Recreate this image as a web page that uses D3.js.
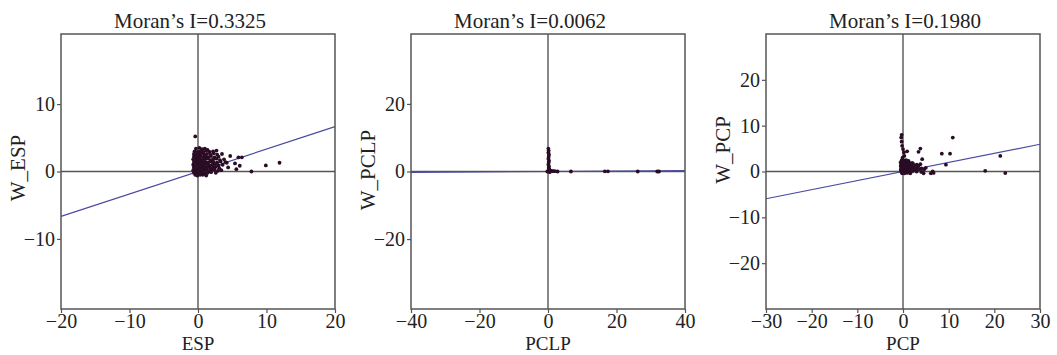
<!DOCTYPE html>
<html lang="en">
<head>
<meta charset="UTF-8">
<title>Moran scatter plots</title>
<script src="https://d3js.org/d3.v7.min.js"></script>
<style>
  body { margin: 0; background: #fff; }
  text { font-family: "Liberation Serif", "Times New Roman", serif; fill: #222; }
</style>
</head>
<body>
<div id="chartID"></div>
<script>
// titles, labels, ticks
var titles = ["Moran\u2019s I=0.3325", "Moran\u2019s I=0.0062", "Moran\u2019s I=0.1980"];
var moranI = [0.3325, 0.0062, 0.1980];
var xLabels = ["ESP", "PCLP", "PCP"];
var yLabels = ["W_ESP", "W_PCLP", "W_PCP"];
var xLimits = [[-20, 20], [-40, 40], [-30, 30]];
var yLimits = [[-20.4, 20.4], [-40.7, 40.7], [-30, 30]];
var xTicks = [[-20, -10, 0, 10, 20], [-40, -20, 0, 20, 40], [-30, -20, -10, 0, 10, 20, 30]];
var yTicks = [[-10, 0, 10], [-20, 0, 20], [-20, -10, 0, 10, 20]];

// [value, spatial lag] pairs
var espPoints = [
  [-0.4, 5.2],
  [-0.3, 3.4], [0.2, 3.5], [0.6, 3.3], [1.0, 3.4], [1.4, 3.2],
  [-0.5, 3.0], [-0.1, 2.9], [0.3, 3.0], [0.8, 2.9], [1.2, 3.1], [1.7, 2.9], [2.2, 3.0],
  [-0.6, 2.6], [-0.2, 2.5], [0.2, 2.6], [0.5, 2.7], [0.9, 2.5], [1.3, 2.6], [1.8, 2.5], [2.3, 2.7], [2.8, 2.5],
  [-0.6, 2.2], [-0.3, 2.1], [0.1, 2.2], [0.4, 2.3], [0.8, 2.1], [1.1, 2.2], [1.5, 2.1], [1.9, 2.3], [2.4, 2.1], [3.0, 2.2],
  [-0.7, 1.8], [-0.3, 1.7], [0.0, 1.8], [0.3, 1.9], [0.6, 1.7], [1.0, 1.8], [1.4, 1.9], [1.8, 1.7], [2.2, 1.8], [2.7, 1.9], [3.2, 1.7], [3.8, 1.8],
  [-0.6, 1.4], [-0.2, 1.3], [0.1, 1.4], [0.4, 1.5], [0.7, 1.3], [1.1, 1.4], [1.5, 1.3], [1.9, 1.5], [2.3, 1.4], [2.8, 1.3], [3.3, 1.5], [4.0, 1.4],
  [-0.7, 1.0], [-0.4, 0.9], [0.0, 1.0], [0.3, 1.1], [0.6, 0.9], [0.9, 1.0], [1.3, 1.1], [1.7, 0.9], [2.1, 1.0], [2.5, 1.1], [3.0, 0.9], [3.6, 1.0],
  [-0.6, 0.6], [-0.3, 0.5], [0.1, 0.6], [0.4, 0.7], [0.7, 0.5], [1.0, 0.6], [1.4, 0.7], [1.8, 0.5], [2.2, 0.6], [2.6, 0.7], [3.1, 0.5], [4.4, 0.6],
  [-0.7, 0.2], [-0.4, 0.1], [-0.1, 0.2], [0.2, 0.3], [0.5, 0.1], [0.9, 0.2], [1.2, 0.3], [1.6, 0.1], [2.0, 0.2], [2.4, 0.3], [2.9, 0.1], [3.4, 0.2],
  [-0.6, -0.2], [-0.3, -0.3], [0.0, -0.2], [0.3, -0.1], [0.6, -0.2], [1.0, -0.3], [1.4, -0.2], [1.9, -0.1], [2.6, -0.2],
  [-0.4, -0.5], [-0.1, -0.6], [0.3, -0.5], [0.7, -0.5], [1.2, -0.6],
  [2.7, 3.1], [3.5, 2.6], [4.2, 1.3], [4.7, 2.3], [5.9, 2.1], [6.4, 2.1], [5.4, 1.2],
  [6.1, 0.85], [5.6, 0.35], [7.8, 0.0], [9.9, 0.9], [11.9, 1.3]
];
var pclpPoints = [
  [0.1, 6.8], [0.2, 6.2], [0.1, 5.6], [0.3, 5.0], [0.2, 4.4], [0.1, 3.8], [0.3, 3.2],
  [0.2, 2.6], [0.1, 2.0], [0.3, 1.5], [0.2, 1.0], [0.4, 0.6], [0.6, 0.3], [1.0, 0.2],
  [1.5, 0.1], [2.0, 0.1], [2.8, 0.0], [0.1, 0.1], [-0.2, 0.0], [0.5, -0.2],
  [6.7, 0.0], [16.6, 0.05], [17.5, 0.05], [26.2, 0.0], [31.9, 0.0], [32.4, 0.0]
];
var pcpPoints = [
  [-0.3, 8.0], [-0.4, 7.4], [-0.3, 6.5], [-0.2, 5.6], [0.0, 4.9], [0.2, 4.2], [0.3, 3.4], [-0.1, 3.0], [0.9, 4.4],
  [-0.3, 2.4], [0.2, 2.4], [0.7, 2.5], [1.2, 2.3],
  [-0.5, 2.0], [-0.1, 2.0], [0.3, 1.9], [0.8, 2.1], [1.3, 2.0], [2.0, 1.9],
  [-0.4, 1.6], [0.0, 1.6], [0.4, 1.7], [0.9, 1.5], [1.5, 1.6], [2.2, 1.7], [3.0, 1.5], [3.8, 1.6],
  [-0.5, 1.2], [-0.1, 1.2], [0.3, 1.1], [0.8, 1.3], [1.3, 1.2], [1.9, 1.1], [2.6, 1.2], [3.4, 1.3],
  [-0.4, 0.8], [0.0, 0.8], [0.5, 0.9], [1.0, 0.7], [1.6, 0.8], [2.3, 0.9], [3.1, 0.8], [4.0, 0.7], [5.0, 0.8],
  [-0.5, 0.4], [-0.1, 0.4], [0.3, 0.3], [0.8, 0.5], [1.4, 0.4], [2.0, 0.3], [2.8, 0.4], [3.6, 0.5], [4.6, 0.4],
  [-0.4, 0.0], [0.0, 0.0], [0.4, 0.1], [0.9, -0.1], [1.5, 0.0], [2.2, 0.1], [3.0, 0.0], [4.0, -0.1],
  [-0.2, -0.4], [0.3, -0.4], [0.9, -0.3], [1.6, -0.4],
  [3.8, 5.0], [3.4, 4.3], [4.2, 2.7], [10.9, 7.4], [8.5, 3.9], [10.3, 3.9], [9.4, 1.5],
  [21.3, 3.4], [18.0, 0.15], [22.4, -0.35],
  [6.5, 0.0], [6.1, -0.4], [4.5, -0.4], [6.7, -0.3]
];
var pointSets = [espPoints, pclpPoints, pcpPoints];

// layout
var panelLeft = [61, 411, 766];
var panelTop = 34, panelW = 274, panelH = 275;
var titleX = [190, 530, 905];
var yLabelY = [168, 170, 150];

var svg = d3.select("#chartID").append("svg")
  .attr("width", 1057)
  .attr("height", 355);

for (var i = 0; i < 3; i++) {
  var g = svg.append("g")
    .attr("transform", "translate(" + panelLeft[i] + "," + panelTop + ")");

  var xScale = d3.scaleLinear().domain(xLimits[i]).range([0, panelW]);
  var yScale = d3.scaleLinear().domain(yLimits[i]).range([panelH, 0]);

  // cross lines through origin
  g.append("line")
    .attr("x1", xScale(0)).attr("x2", xScale(0))
    .attr("y1", 0).attr("y2", panelH)
    .attr("stroke", "#555").attr("stroke-width", 1.4);
  g.append("line")
    .attr("x1", 0).attr("x2", panelW)
    .attr("y1", yScale(0)).attr("y2", yScale(0))
    .attr("stroke", "#555").attr("stroke-width", 1.4);

  // regression line, slope = Moran's I
  var slope = moranI[i];
  var lineData = xLimits[i].map(function(x) { return [x, slope * x]; });
  g.append("path")
    .datum(lineData)
    .attr("fill", "none")
    .attr("stroke", "#4a4aa2")
    .attr("stroke-width", 1.2)
    .attr("d", d3.line()
      .x(function(d) { return xScale(d[0]); })
      .y(function(d) { return yScale(d[1]); }));

  // points
  g.selectAll(".pt")
    .data(pointSets[i])
    .enter()
    .append("circle")
    .attr("class", "pt")
    .attr("cx", function(d) { return xScale(d[0]); })
    .attr("cy", function(d) { return yScale(d[1]); })
    .attr("r", 1.9)
    .attr("fill", "#2a0c25");

  // frame
  g.append("rect")
    .attr("width", panelW).attr("height", panelH)
    .attr("fill", "none")
    .attr("stroke", "#555").attr("stroke-width", 1.5);

  // axes
  var xAxis_g = g.append("g")
    .attr("transform", "translate(0," + panelH + ")")
    .call(d3.axisBottom(xScale).tickValues(xTicks[i]).tickSize(4).tickSizeOuter(0).tickPadding(1));
  var yAxis_g = g.append("g")
    .call(d3.axisLeft(yScale).tickValues(yTicks[i]).tickSize(4).tickSizeOuter(0).tickPadding(2));

  [xAxis_g, yAxis_g].forEach(function(a) {
    a.select(".domain").remove();
    a.selectAll(".tick line").attr("stroke", "#555").attr("stroke-width", 1.2);
    a.selectAll(".tick text")
      .attr("font-size", 20)
      .attr("font-family", "Liberation Serif")
      .attr("fill", "#222");
  });

  // title
  svg.append("text")
    .attr("x", titleX[i])
    .attr("y", 28)
    .attr("text-anchor", "middle")
    .attr("font-size", 21)
    .text(titles[i]);

  // axis labels
  svg.append("text")
    .attr("x", panelLeft[i] + panelW / 2)
    .attr("y", 350)
    .attr("text-anchor", "middle")
    .attr("font-size", 19)
    .text(xLabels[i]);

  svg.append("text")
    .attr("transform", "translate(" + (panelLeft[i] - 36) + "," + yLabelY[i] + ") rotate(-90)")
    .attr("text-anchor", "middle")
    .attr("font-size", 21)
    .text(yLabels[i]);
}
</script>
</body>
</html>
